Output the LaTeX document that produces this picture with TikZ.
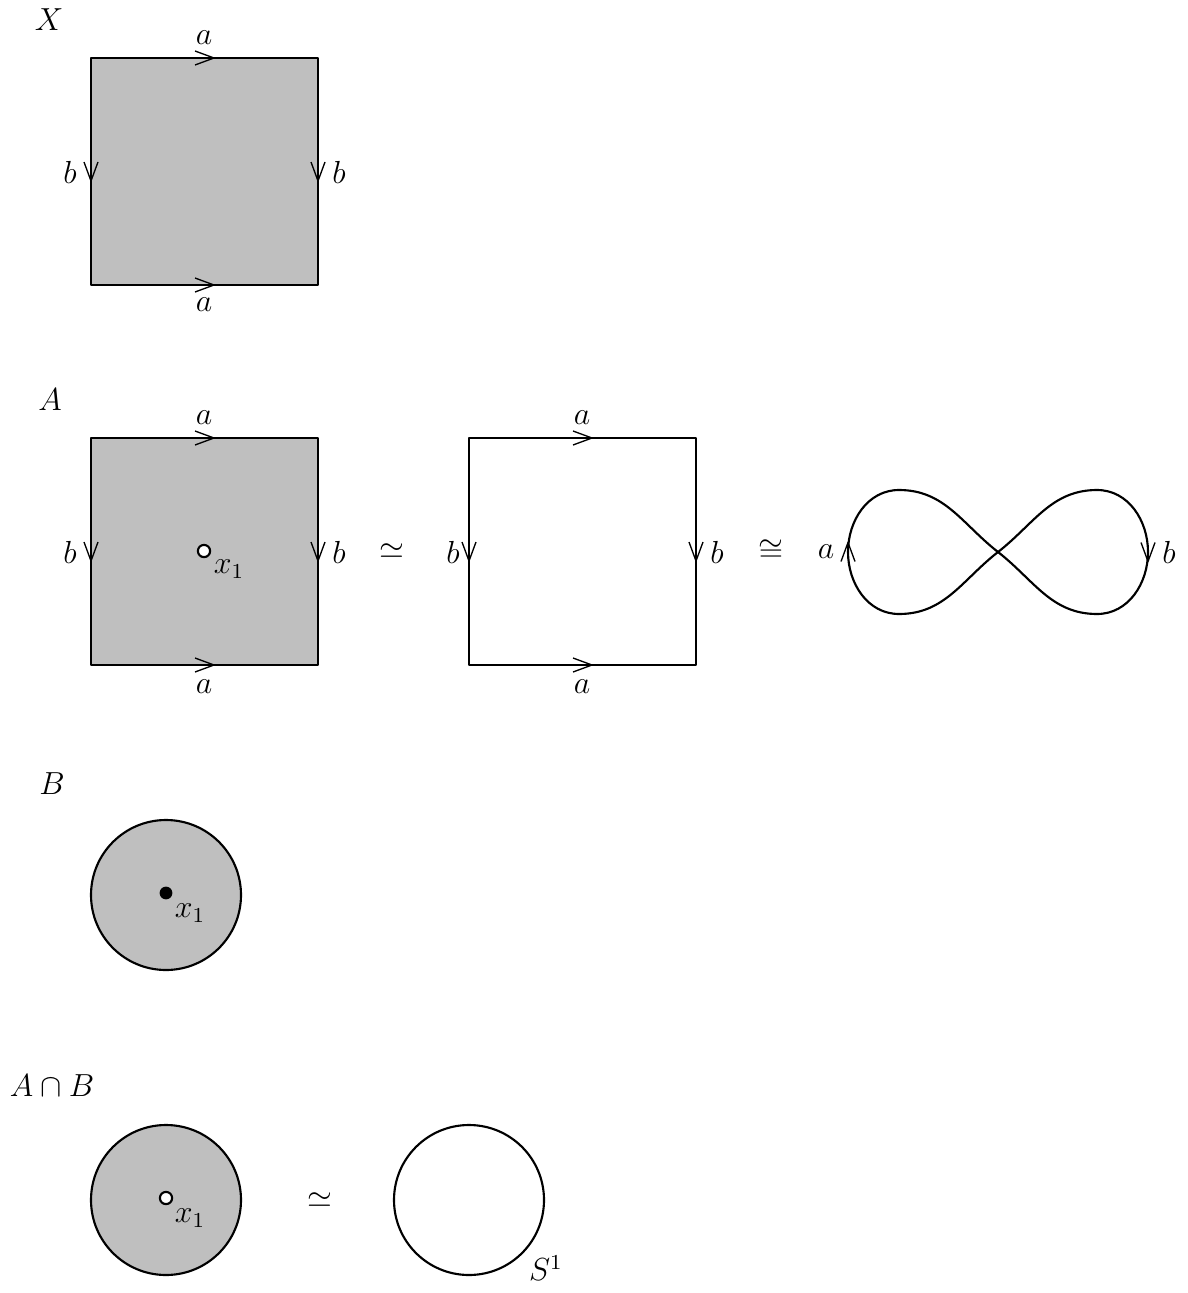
\documentclass[tikz,border=0pt]{standalone}
\usepackage{amssymb}
\begin{document}
\begin{tikzpicture}[x=0.013215cm,y=-0.013215cm,line join=round,
  edge/.style={line width=0.8pt},
  region/.style={fill=black!25,line width=0.8pt},
  lbl/.style={inner sep=0pt,font=\fontsize{11.5}{14}\selectfont},
  hole/.style={circle,draw,fill=white,line width=0.8pt,minimum size=4.6pt,inner sep=0pt},
  pt/.style={circle,fill=black,minimum size=4.8pt,inner sep=0pt},
  chev/.pic={\draw[line width=0.5pt] (-9.5,-7) -- (9.5,0) -- (-9.5,7);}]
\useasboundingbox (0,0) rectangle (1188,1293);

% ---------- X ----------
\node[lbl] (lX) at (49,20) {$X$};
\draw[region] (91,58) rectangle (318,285);
\pic at (204.5,58) {chev};
\pic at (204.5,285) {chev};
\pic[rotate=-90] at (91,171.5) {chev};
\pic[rotate=-90] at (318,171.5) {chev};
\node[lbl] (Xat) at (204,38) {$a$};
\node[lbl] (Xab) at (204,305) {$a$};
\node[lbl] (Xbl) at (70,172) {$b$};
\node[lbl] (Xbr) at (339,172) {$b$};

% ---------- A ----------
\node[lbl] (lA) at (50,400) {$A$};
\draw[region] (91,438) rectangle (318,665);
\pic at (204.5,438) {chev};
\pic at (204.5,665) {chev};
\pic[rotate=-90] at (91,551.5) {chev};
\pic[rotate=-90] at (318,551.5) {chev};
\node[lbl] (Aat) at (204,418) {$a$};
\node[lbl] (Aab) at (204,687) {$a$};
\node[lbl] (Abl) at (70,552) {$b$};
\node[lbl] (Abr) at (339,552) {$b$};
\node[hole] (Ax) at (204,551) {};
\node[lbl] (Axl) at (229,569) {$x_1$};
\node[lbl] (sim1) at (392,551) {$\simeq$};

\draw[edge] (469,438) rectangle (696,665);
\pic at (582.5,438) {chev};
\pic at (582.5,665) {chev};
\pic[rotate=-90] at (469,551.5) {chev};
\pic[rotate=-90] at (696,551.5) {chev};
\node[lbl] (Sat) at (582,418) {$a$};
\node[lbl] (Sab) at (582,687) {$a$};
\node[lbl] (Sbl) at (453,552) {$b$};
\node[lbl] (Sbr) at (717,552) {$b$};
\node[lbl] (cong) at (771,551) {$\cong$};

% figure eight
\coordinate (c) at (998,552);
\draw[edge] (c) to[out=38,in=180] (1097,490) to[out=0,in=90] (1148,552)
  to[out=-90,in=0] (1097,614) to[out=180,in=-38] (c)
  to[out=142,in=0] (899,490) to[out=180,in=90] (848,552)
  to[out=-90,in=180] (899,614) to[out=0,in=-142] (c);
\pic[rotate=90] at (848,552) {chev};
\pic[rotate=-90] at (1148,552) {chev};
\node[lbl] (Ea) at (826,552) {$a$};
\node[lbl] (Eb) at (1169,552) {$b$};

% ---------- B ----------
\node[lbl] (lB) at (52,784) {$B$};
\draw[region] (166,895) circle[radius=75];
\node[pt] (Bx) at (166,893) {};
\node[lbl] (Bxl) at (190,913) {$x_1$};

% ---------- A cap B ----------
\node[lbl] (lAB) at (52,1086) {$A\cap B$};
\draw[region] (166,1200) circle[radius=75];
\node[hole] (ABx) at (166,1198) {};
\node[lbl] (ABxl) at (190,1218) {$x_1$};
\node[lbl] (sim2) at (320,1200) {$\simeq$};
\draw[edge] (469,1200) circle[radius=75];
\node[lbl] (S1) at (546,1268) {$S^1$};
\end{tikzpicture}
\end{document}
